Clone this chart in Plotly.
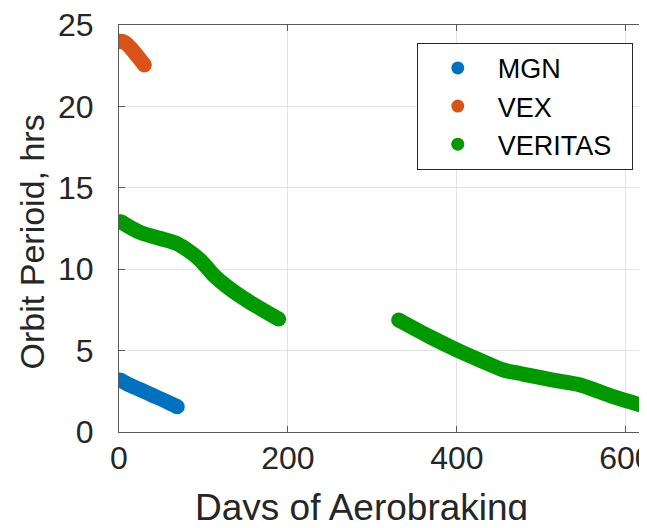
import plotly.graph_objects as go

# Datos (días de aerofrenado vs periodo orbital, hrs)
mgn_dias = [1, 10, 25, 40, 55, 69]
mgn_periodo = [3.2, 2.95, 2.6, 2.25, 1.9, 1.55]

vex_dias = [1, 6, 11, 20, 30]
vex_periodo = [24.0, 23.95, 23.75, 23.2, 22.55]

veritas_dias_1 = [2, 25, 48, 68, 80, 96, 112, 127, 151, 189]
veritas_periodo_1 = [12.92, 12.26, 11.9, 11.59, 11.22, 10.57, 9.64, 8.97, 8.1, 6.94]

veritas_dias_2 = [331, 368, 400, 427, 455, 478, 514, 546, 585, 625]
veritas_periodo_2 = [6.88, 5.85, 5.04, 4.42, 3.81, 3.56, 3.19, 2.89, 2.17, 1.55]

x_ticks = [0, 200, 400, 600]
y_ticks = [0, 5, 10, 15, 20, 25]

COLOR_MGN = "#0072BD"
COLOR_VEX = "#D95319"
COLOR_VERITAS = "#009900"
TEXTO = "#262626"
FUENTE = "Liberation Sans, Arial, sans-serif"
ANCHO = 15

fig = go.Figure()


def tramo(x, y, color):
    # trazo grueso suavizado con extremos redondeados
    tamanos = [ANCHO if i in (0, len(x) - 1) else 0 for i in range(len(x))]
    fig.add_trace(go.Scatter(
        x=x, y=y, mode="lines+markers", showlegend=False,
        line=dict(color=color, width=ANCHO, shape="spline", smoothing=0.8),
        marker=dict(color=color, size=tamanos, opacity=1, line=dict(width=0)),
        hoverinfo="skip"
    ))


tramo(mgn_dias, mgn_periodo, COLOR_MGN)
tramo(vex_dias, vex_periodo, COLOR_VEX)
tramo(veritas_dias_1, veritas_periodo_1, COLOR_VERITAS)
tramo(veritas_dias_2, veritas_periodo_2, COLOR_VERITAS)

# entradas de la leyenda (solo punto)
for nombre, color in [("MGN", COLOR_MGN), ("VEX", COLOR_VEX), ("VERITAS\u00a0\u00a0", COLOR_VERITAS)]:
    fig.add_trace(go.Scatter(
        x=[None], y=[None], mode="markers", name=nombre,
        marker=dict(color=color, size=13)
    ))

eje = dict(
    showline=True, linecolor="#5a5a5a", linewidth=1, mirror="allticks",
    ticks="inside", ticklen=6, tickcolor="#5a5a5a",
    showgrid=True, gridcolor="#e3e3e3", gridwidth=1,
    zeroline=False, tickfont=dict(family=FUENTE, size=32, color=TEXTO),
    automargin=False, ticklabeloverflow="allow",
)

fig.update_xaxes(range=[0, 625], tickvals=x_ticks, ticklabelstandoff=-2, **eje)
fig.update_yaxes(range=[0, 25], tickvals=y_ticks, ticklabelstandoff=18, **eje)

fig.add_annotation(
    text="Days of Aerobraking", xref="paper", yref="paper",
    x=0.46, y=-0.185, xanchor="center", yanchor="middle", showarrow=False,
    font=dict(family=FUENTE, size=37, color=TEXTO)
)
fig.add_annotation(
    text="Orbit Perioid, hrs", xref="paper", yref="paper",
    x=-0.165, y=0.468, xanchor="center", yanchor="middle",
    showarrow=False, textangle=-90,
    font=dict(family=FUENTE, size=34, color=TEXTO)
)

# la página añade 8 px de margen al cuerpo: la figura se ajusta para no desbordar
fig.update_layout(
    width=639, height=512,
    margin=dict(l=111, r=0, t=17, b=88),
    plot_bgcolor="white", paper_bgcolor="white",
    legend=dict(
        x=0.564, y=0.956, xanchor="left", yanchor="top",
        bgcolor="white", bordercolor="#262626", borderwidth=1,
        font=dict(family=FUENTE, size=27, color="black"),
        itemwidth=70, tracegroupgap=0
    ),
)

fig.write_html("out.html")
